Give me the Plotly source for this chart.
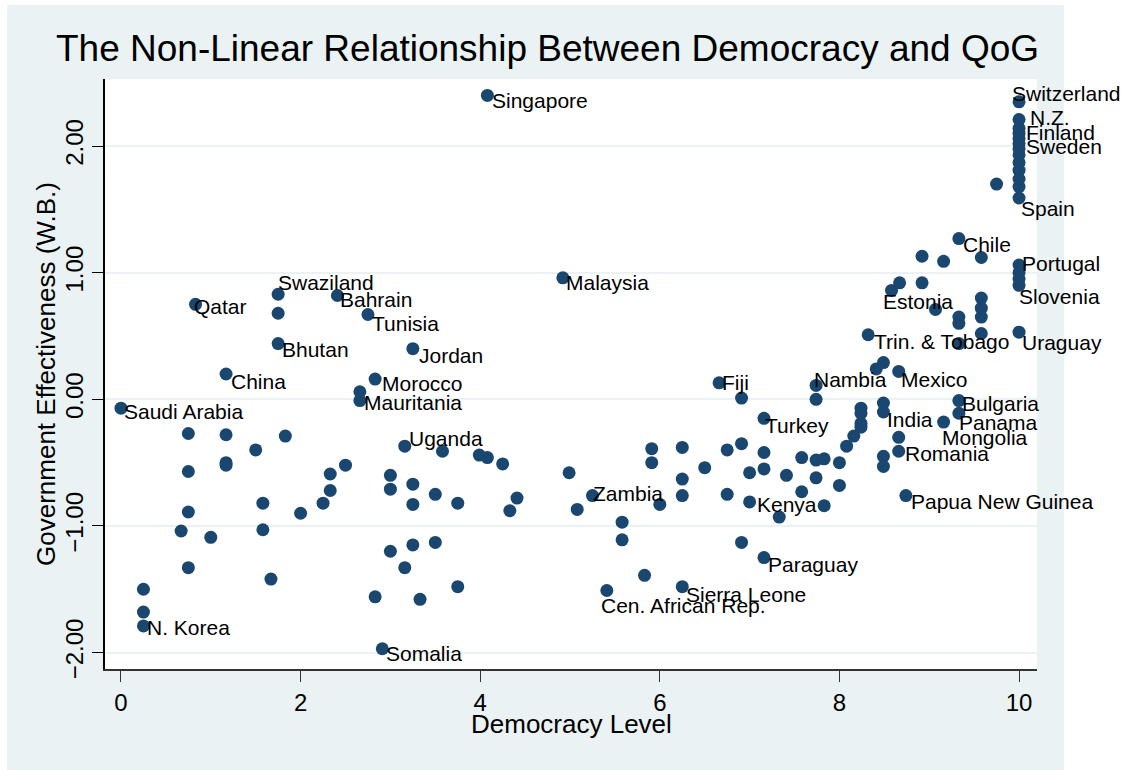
import plotly.graph_objects as go

# ---------------- data ----------------
democracy = [
    0.00, 0.83, 1.75, 1.75, 1.75, 2.41, 2.75, 3.25, 1.17, 2.83, 2.66, 2.66,
    0.75, 1.17, 1.83, 1.50, 3.16, 3.58, 0.75, 1.17, 1.17, 2.50, 2.33, 2.33,
    2.25, 3.00, 3.00, 3.25, 3.25, 3.50, 3.75, 0.75, 1.58, 2.00, 0.67, 1.00,
    1.58, 0.75, 1.67, 0.25, 0.25, 0.25, 3.00, 3.25, 3.50, 3.16, 2.83, 3.33,
    3.75, 2.91, 3.99, 4.08, 4.25, 4.41, 4.33, 4.08, 4.92,
    4.99, 5.08, 5.25, 5.91, 5.91, 6.25, 6.25, 6.25, 6.00, 6.50, 5.58, 5.58,
    5.83, 5.41, 6.25, 6.66, 6.91, 7.74, 7.74, 8.41, 8.49, 8.66, 7.16, 8.24,
    8.24, 8.24, 8.24, 8.49, 8.49, 8.16, 8.08, 8.66, 8.66, 8.49, 8.49, 8.74,
    6.75, 6.91, 7.16, 7.00, 7.16, 6.75, 7.00, 7.33, 7.41, 7.58, 7.74, 7.83,
    8.00, 7.74, 7.58, 8.00, 7.83, 6.91, 7.16,
    9.33, 8.92, 9.16, 9.58, 10.0, 10.0, 10.0, 10.0, 8.67, 8.92, 8.58, 9.07,
    9.33, 9.33, 9.33, 9.58, 9.58, 9.58, 9.58, 10.0, 8.32, 9.33, 9.33, 9.16,
    9.75,
    10.0, 10.0, 10.0, 10.0, 10.0, 10.0, 10.0, 10.0, 10.0, 10.0, 10.0, 10.0, 10.0,
]
qog = [
    -0.07, 0.75, 0.83, 0.68, 0.44, 0.82, 0.67, 0.40, 0.20, 0.16, 0.06, -0.01,
    -0.27, -0.28, -0.29, -0.40, -0.37, -0.41, -0.57, -0.50, -0.52, -0.52, -0.59, -0.72,
    -0.82, -0.60, -0.71, -0.67, -0.83, -0.75, -0.82, -0.89, -0.82, -0.90, -1.04, -1.09,
    -1.03, -1.33, -1.42, -1.50, -1.68, -1.79, -1.20, -1.15, -1.13, -1.33, -1.56, -1.58,
    -1.48, -1.97, -0.44, -0.46, -0.51, -0.78, -0.88, 2.40, 0.96,
    -0.58, -0.87, -0.76, -0.39, -0.50, -0.38, -0.63, -0.76, -0.83, -0.54, -0.97, -1.11,
    -1.39, -1.51, -1.48, 0.13, 0.01, 0.11, 0.00, 0.24, 0.29, 0.22, -0.15, -0.07,
    -0.11, -0.19, -0.22, -0.03, -0.10, -0.29, -0.37, -0.30, -0.41, -0.45, -0.53, -0.76,
    -0.40, -0.35, -0.42, -0.58, -0.55, -0.75, -0.81, -0.93, -0.60, -0.46, -0.48, -0.47,
    -0.50, -0.62, -0.73, -0.68, -0.84, -1.13, -1.25,
    1.27, 1.13, 1.09, 1.12, 1.06, 1.00, 0.95, 0.90, 0.92, 0.92, 0.86, 0.71,
    0.65, 0.60, 0.44, 0.80, 0.72, 0.65, 0.52, 0.53, 0.51, -0.01, -0.11, -0.18,
    1.70,
    2.35, 2.21, 2.14, 2.10, 2.06, 2.02, 1.98, 1.93, 1.87, 1.81, 1.74, 1.68, 1.59,
]
country = [
    "Saudi Arabia", "Qatar", "Swaziland", "", "Bhutan", "Bahrain", "Tunisia", "Jordan", "China", "Morocco", "", "Mauritania",
    "", "", "", "", "Uganda", "", "", "", "", "", "", "",
    "", "", "", "", "", "", "", "", "", "", "", "",
    "", "", "", "", "", "N. Korea", "", "", "", "", "", "",
    "", "Somalia", "", "", "", "", "", "Singapore", "Malaysia",
    "", "", "Zambia", "", "", "", "", "", "", "", "", "",
    "", "Cen. African Rep.", "Sierra Leone", "Fiji", "", "Nambia", "", "", "", "Mexico", "Turkey", "",
    "", "", "", "", "India", "", "", "", "Romania", "", "", "Papua New Guinea",
    "", "", "", "", "", "", "Kenya", "", "", "", "", "",
    "", "", "", "", "", "", "Paraguay",
    "Chile", "", "", "", "Portugal", "", "", "Slovenia", "", "", "Estonia", "",
    "", "", "", "", "", "", "", "Uraguay", "Trin. & Tobago", "Bulgaria", "Panama", "Mongolia",
    "",
    "Switzerland", "N.Z.", "", "Finland", "", "", "Sweden", "", "", "", "", "", "Spain",
]
y_ticks = [-2, -1, 0, 1, 2]
x_ticks = [0, 2, 4, 6, 8, 10]

title_text = "The Non-Linear Relationship Between Democracy and QoG"
x_title = "Democracy Level"
y_title = "Government Effectiveness (W.B.)"

# ---------------- style ----------------
# label offsets (px right, px down) of text start / text middle from the marker centre
label_offset_default = (4, 5)
label_offset = {
    "Saudi Arabia": (3, 3), "Qatar": (-2, 2), "Swaziland": (0, -12),
    "Bahrain": (3, 4), "Tunisia": (4, 9), "Bhutan": (4, 6), "Jordan": (6, 7),
    "China": (5, 7), "Morocco": (7, 4), "Mauritania": (4, 2), "Uganda": (4, -8),
    "N. Korea": (4, 2), "Somalia": (4, 5), "Singapore": (5, 5), "Malaysia": (3, 5),
    "Zambia": (1, -2), "Cen. African Rep.": (-6, 15), "Sierra Leone": (4, 8),
    "Fiji": (3, 0), "Turkey": (1, 7), "Kenya": (7, 3), "Paraguay": (4, 7),
    "Nambia": (-2, -6), "Mexico": (2, 8), "India": (4, 8), "Romania": (6, 2),
    "Papua New Guinea": (5, 6), "Trin. & Tobago": (6, 7), "Estonia": (-9, 11),
    "Chile": (4, 6), "Portugal": (3, -2), "Slovenia": (0, 11), "Uraguay": (3, 10),
    "Bulgaria": (3, 3), "Panama": (0, 9), "Mongolia": (-2, 15),
    "Switzerland": (-7, -8), "N.Z.": (11, -2), "Finland": (7, -1),
    "Sweden": (7, -2), "Spain": (2, 10),
}
W, H = 1125, 770
L, R, T, B = 105, 1037, 79, 669
XR = [-0.178, 10.2]
YR = [-2.13, 2.53]
BG = "#EAF2F3"
NAVY = "#1A476F"
FONT = "Liberation Sans, Arial, sans-serif"

def px_x(p):
    return (p - L) / (R - L)

def px_y(p):
    return (B - p) / (B - T)

fig = go.Figure()
fig.add_trace(go.Scatter(
    x=democracy, y=qog, mode="markers",
    marker=dict(color=NAVY, size=13, line=dict(width=0)),
    hovertext=country, showlegend=False, cliponaxis=False,
))

annotations = []
for d, q, c in zip(democracy, qog, country):
    if not c:
        continue
    ox, oy = label_offset.get(c, label_offset_default)
    annotations.append(dict(
        text=c, x=d, y=q, xref="x", yref="y", showarrow=False,
        xanchor="left", yanchor="middle", xshift=ox - 1, yshift=-oy,
        borderpad=0, font=dict(family=FONT, size=21, color="black"),
    ))

annotations += [
    dict(text=title_text, xref="paper", yref="paper", x=px_x(547), y=px_y(48),
         xanchor="center", yanchor="middle", showarrow=False,
         font=dict(size=37, color="black", family=FONT)),
    dict(text=x_title, xref="paper", yref="paper", x=px_x(571), y=px_y(724),
         xanchor="center", yanchor="middle", showarrow=False,
         font=dict(size=26, color="black", family=FONT)),
    dict(text=y_title, xref="paper", yref="paper", x=px_x(46), y=px_y(374),
         xanchor="center", yanchor="middle", showarrow=False, textangle=-90,
         font=dict(size=26, color="black", family=FONT)),
]

fig.update_layout(
    width=W, height=H,
    margin=dict(l=L, r=W - R, t=T, b=H - B, pad=0),
    paper_bgcolor=BG, plot_bgcolor="white",
    font=dict(family=FONT, color="black"),
    xaxis=dict(
        range=XR, tickvals=x_ticks, ticks="outside", ticklen=11, tickwidth=1,
        tickcolor="#333333", showgrid=False, zeroline=False,
        showline=True, linecolor="#333333", linewidth=1.5,
        tickfont=dict(size=24, color="black"),
    ),
    yaxis=dict(
        range=YR, tickvals=y_ticks, tickformat=".2f", tickangle=-90,
        ticks="outside", ticklen=11, tickwidth=1, tickcolor="black",
        showgrid=True, gridcolor=BG, gridwidth=2, zeroline=False,
        showline=True, linecolor="black", linewidth=1.5,
        tickfont=dict(size=24, color="black"),
    ),
    annotations=annotations,
    shapes=[
        dict(type="rect", xref="paper", yref="paper", layer="below",
             x0=px_x(-5), x1=px_x(7), y0=px_y(H + 5), y1=px_y(-5),
             fillcolor="white", line=dict(width=0)),
        dict(type="rect", xref="paper", yref="paper", layer="below",
             x0=px_x(1064), x1=px_x(W + 5), y0=px_y(H + 5), y1=px_y(-5),
             fillcolor="white", line=dict(width=0)),
        dict(type="rect", xref="paper", yref="paper", layer="below",
             x0=px_x(-5), x1=px_x(W + 5), y0=px_y(5), y1=px_y(-5),
             fillcolor="white", line=dict(width=0)),
    ],
)

fig.write_html("out.html")
